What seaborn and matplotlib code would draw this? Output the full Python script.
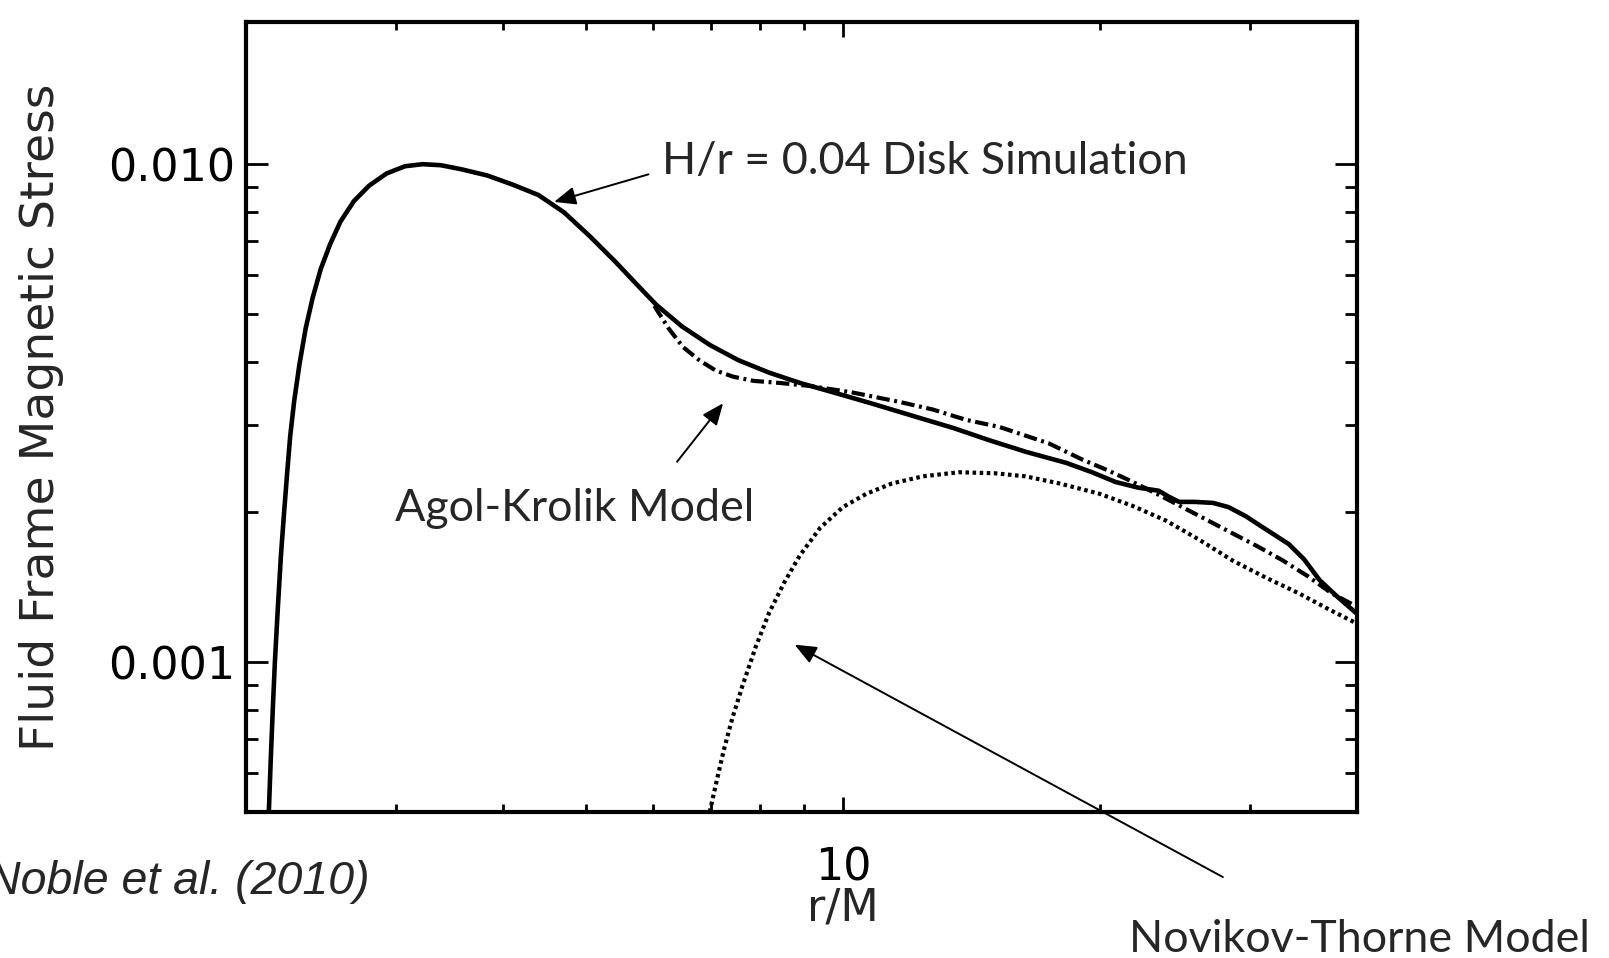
import numpy as np
import pandas as pd
import matplotlib
matplotlib.use("Agg")
import matplotlib.pyplot as plt
from matplotlib import font_manager as fm
from matplotlib.ticker import FixedLocator, FixedFormatter, LogLocator, NullFormatter
import seaborn as sns

# ---- data: fluid-frame magnetic stress vs r/M ----
# H/r = 0.04 disk simulation
sim_r = [2.127, 2.138, 2.150, 2.162, 2.180, 2.198, 2.216, 2.235, 2.253, 2.278,
         2.310, 2.349, 2.394, 2.447, 2.509, 2.580, 2.675, 2.787, 2.922, 3.071,
         3.219, 3.383, 3.577, 3.833, 4.107, 4.400, 4.716, 5.052, 5.414, 5.721,
         6.047, 6.479, 6.983, 7.546, 8.196, 8.905, 9.728, 10.80, 12.17, 13.48,
         14.85, 16.36, 18.27, 19.58, 20.86, 22.17, 23.43, 24.09, 24.76, 25.81,
         27.13, 28.28, 29.64, 31.33, 33.28, 34.69, 36.15, 38.01, 40.0]
sim_stress = [0.000500, 0.000637, 0.000807, 0.001000, 0.001298, 0.001646, 0.001991,
              0.002406, 0.002841, 0.003355, 0.003962, 0.004678, 0.005395, 0.006163,
              0.006905, 0.007667, 0.008428, 0.009052, 0.009581, 0.009905, 0.010000,
              0.009952, 0.009765, 0.009491, 0.009095, 0.008672, 0.008000, 0.007171,
              0.006370, 0.005764, 0.005218, 0.004723, 0.004336, 0.004039, 0.003814,
              0.003637, 0.003484, 0.003308, 0.003110, 0.002951, 0.002789, 0.002646,
              0.002512, 0.002406, 0.002300, 0.002241, 0.002209, 0.002148, 0.002098,
              0.002098, 0.002088, 0.002048, 0.001963, 0.001845, 0.001726, 0.001608,
              0.001462, 0.001349, 0.001250]

# Agol-Krolik model
ak_r = [6.014, 6.251, 6.497, 6.790, 7.097, 7.438, 7.862, 8.424, 9.154, 10.22,
        11.64, 12.75, 13.94, 15.26, 17.43, 19.10, 20.40, 21.86, 23.43, 24.97,
        26.76, 28.59, 30.55, 32.73, 34.98, 37.37, 40.0]
ak_stress = [0.005194, 0.004678, 0.004295, 0.004039, 0.003851, 0.003743, 0.003671,
             0.003637, 0.003586, 0.003484, 0.003332, 0.003215, 0.003066, 0.002966,
             0.002749, 0.002548, 0.002430, 0.002300, 0.002168, 0.002048, 0.001925,
             0.001814, 0.001710, 0.001601, 0.001490, 0.001374, 0.001292]

# Novikov-Thorne model
nt_r = [6.983, 7.118, 7.257, 7.420, 7.629, 7.907, 8.196, 8.543, 8.905, 9.410,
        10.0, 10.66, 11.42, 12.41, 13.67, 15.06, 16.36, 17.92, 19.96, 21.86,
        23.88, 26.17, 28.59, 31.33, 34.21, 36.96, 40.0]
nt_stress = [0.000500, 0.000579, 0.000668, 0.000770, 0.000897, 0.001074, 0.001256,
             0.001448, 0.001638, 0.001862, 0.002048, 0.002179, 0.002285, 0.002361,
             0.002406, 0.002395, 0.002361, 0.002285, 0.002179, 0.002058, 0.001925,
             0.001759, 0.001600, 0.001476, 0.001374, 0.001280, 0.001195]

y_ticks = [0.001, 0.01]
y_ticklabels = ["0.001", "0.010"]
x_ticks = [10]
x_ticklabels = ["10"]

df = pd.concat([
    pd.DataFrame({"r": sim_r, "stress": sim_stress, "model": "sim"}),
    pd.DataFrame({"r": ak_r, "stress": ak_stress, "model": "ak"}),
    pd.DataFrame({"r": nt_r, "stress": nt_stress, "model": "nt"}),
], ignore_index=True)


def has_font(name, **kw):
    try:
        fm.findfont(fm.FontProperties(family=name, **kw), fallback_to_default=False)
        return True
    except Exception:
        return False


sns.set_theme(style="ticks")
plt.rcParams["font.family"] = ["DejaVu Sans"]
label_font = "Liberation Sans Narrow" if has_font("Liberation Sans Narrow") else "DejaVu Sans"
note_font = "Lato" if has_font("Lato") else "DejaVu Sans"

X_MIN, X_MAX = 2, 40
Y_MIN, Y_MAX = 0.0005, 0.0193

fig = plt.figure(figsize=(16.09, 9.58), dpi=100)
fig.patch.set_facecolor("white")
ax = fig.add_axes([246 / 1609, 1 - 812 / 958, 1111 / 1609, 790 / 958])
ax.set_facecolor("white")

styles = {
    "sim": dict(linestyle="-", lw=3.3),
    "ak": dict(linestyle=(0, (3.2, 1.1, 0.7, 1.1)), lw=3.0),
    "nt": dict(linestyle=(0, (0.85, 0.85)), lw=3.0),
}
for key in ["nt", "ak", "sim"]:
    sns.lineplot(data=df[df["model"] == key], x="r", y="stress", sort=False,
                 estimator=None, color="black", ax=ax, legend=False, **styles[key])

ax.set_xscale("log")
ax.set_yscale("log")
ax.set_xlim(X_MIN, X_MAX)
ax.set_ylim(Y_MIN, Y_MAX)

ax.xaxis.set_major_locator(FixedLocator(x_ticks))
ax.xaxis.set_major_formatter(FixedFormatter(x_ticklabels))
ax.xaxis.set_minor_locator(LogLocator(base=10, subs=np.arange(2, 10)))
ax.xaxis.set_minor_formatter(NullFormatter())
ax.yaxis.set_major_locator(FixedLocator(y_ticks))
ax.yaxis.set_major_formatter(FixedFormatter(y_ticklabels))
ax.yaxis.set_minor_locator(LogLocator(base=10, subs=np.arange(2, 10)))
ax.yaxis.set_minor_formatter(NullFormatter())

for s in ax.spines.values():
    s.set_visible(True)
    s.set_linewidth(3.0)
    s.set_color("black")

ax.tick_params(axis="both", which="both", direction="in", top=True, right=True,
               color="black", width=2.0, labelcolor="black")
ax.tick_params(axis="y", which="major", length=16, labelsize=32, pad=8)
ax.tick_params(axis="y", which="minor", length=8.5)
ax.tick_params(axis="x", which="major", length=11, labelsize=32, pad=25)
ax.tick_params(axis="x", which="minor", length=6)

# x label sits under the r/M = 10 tick
ten_frac = np.log10(10 / X_MIN) / np.log10(X_MAX / X_MIN)
ax.set_xlabel("r/M", fontsize=32, family=["DejaVu Sans"])
ax.xaxis.set_label_coords(ten_frac, -0.094)
ax.set_ylabel("Fluid Frame Magnetic Stress", fontsize=34, family=[label_font])
ax.yaxis.set_label_coords(-0.164, 0.5)

# annotations
arrow = dict(arrowstyle="-|>,head_length=0.6,head_width=0.25", color="black",
             lw=1.4, shrinkA=0, shrinkB=0, mutation_scale=22)
ax.annotate("", xy=(4.59, 0.0084), xycoords="data",
            xytext=(0.403, 0.818), textcoords="figure fraction", arrowprops=arrow)
ax.annotate("", xy=(7.24, 0.00331), xycoords="data",
            xytext=(0.4208, 0.518), textcoords="figure fraction", arrowprops=arrow)
ax.annotate("", xy=(8.78, 0.001084), xycoords="data",
            xytext=(0.760, 0.0845), textcoords="figure fraction", arrowprops=arrow)

note_size = 32.3
fig.text(0.4114, 0.831, "H/r = 0.04 Disk Simulation", fontsize=note_size,
         family=[note_font], ha="left", va="center")
fig.text(0.2455, 0.4697, "Agol-Krolik Model", fontsize=note_size,
         family=[note_font], ha="left", va="center")
fig.text(0.7014, 0.0198, "Novikov-Thorne Model", fontsize=note_size,
         family=[note_font], ha="left", va="center")
fig.text(0.2296, 0.0793, "Noble et al. (2010)", fontsize=33.5, style="italic",
         family=["Liberation Sans", "DejaVu Sans"], ha="right", va="center")

fig.savefig("out.png", dpi=100, facecolor="white")
